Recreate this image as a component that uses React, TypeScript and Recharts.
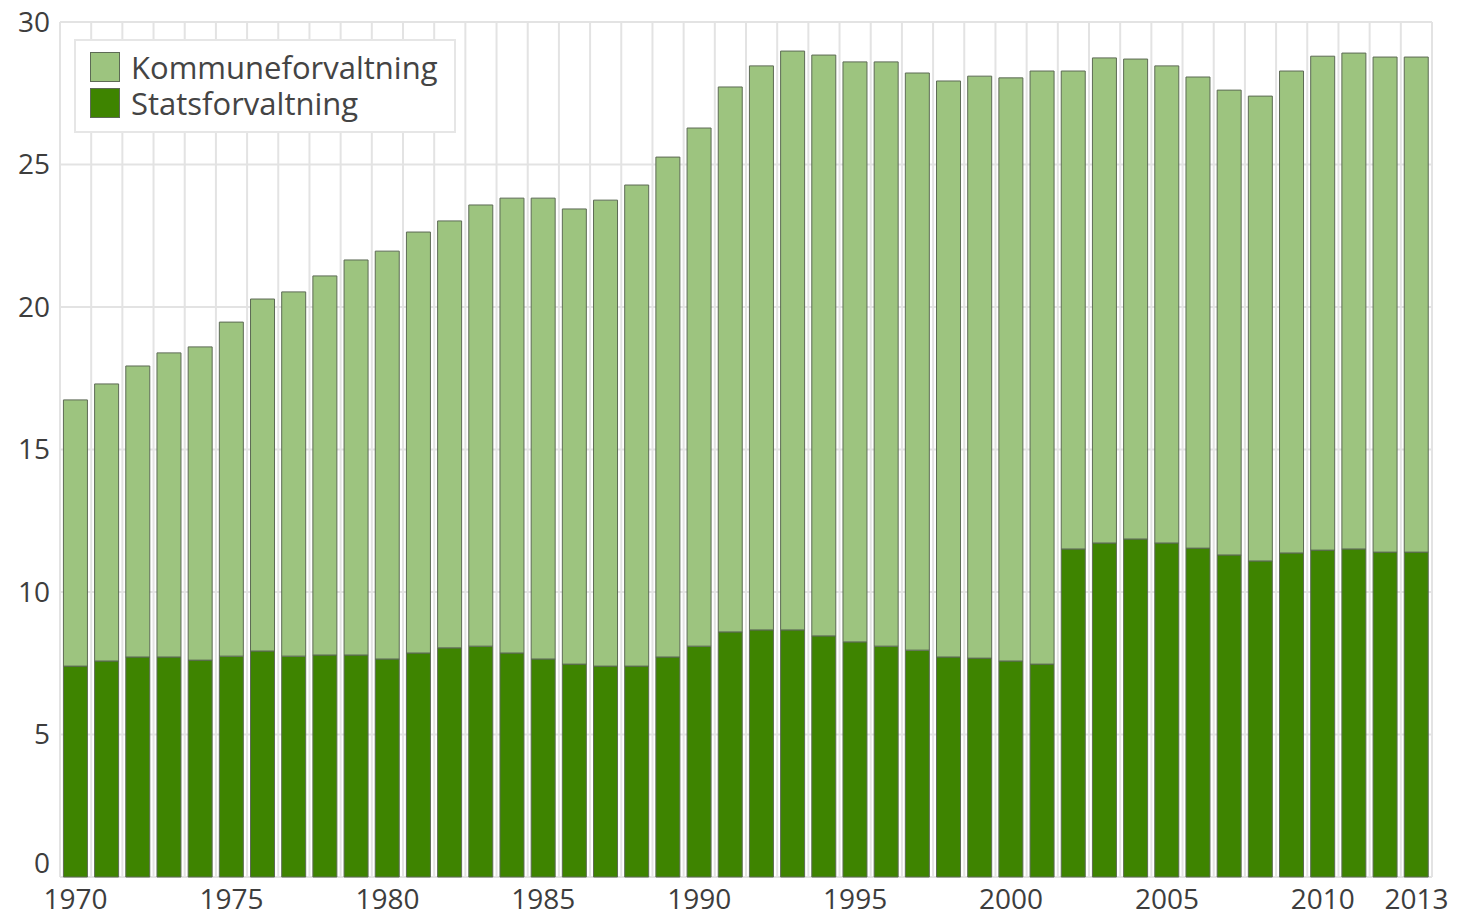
import React from 'react';
import { BarChart, Bar, XAxis, YAxis, CartesianGrid, Legend } from 'recharts';

const years: string[] = [
  '1970','1971','1972','1973','1974','1975','1976','1977','1978','1979',
  '1980','1981','1982','1983','1984','1985','1986','1987','1988','1989',
  '1990','1991','1992','1993','1994','1995','1996','1997','1998','1999',
  '2000','2001','2002','2003','2004','2005','2006','2007','2008','2009',
  '2010','2011','2012','2013',
];

const statsforvaltning: number[] = [
  7.4, 7.58, 7.72, 7.72, 7.61, 7.75, 7.93, 7.75, 7.79, 7.79,
  7.65, 7.86, 8.04, 8.1, 7.86, 7.65, 7.47, 7.4, 7.4, 7.72,
  8.1, 8.6, 8.67, 8.67, 8.46, 8.25, 8.1, 7.96, 7.72, 7.68,
  7.58, 7.47, 11.51, 11.72, 11.86, 11.72, 11.54, 11.3, 11.09, 11.37,
  11.47, 11.51, 11.4, 11.4,
];

const kommuneforvaltning: number[] = [
  9.34, 9.72, 10.21, 10.67, 10.99, 11.72, 12.35, 12.78, 13.3, 13.86,
  14.31, 14.77, 14.98, 15.48, 15.96, 16.17, 15.97, 16.35, 16.88, 17.54,
  18.18, 19.12, 19.79, 20.31, 20.38, 20.35, 20.5, 20.25, 20.21, 20.42,
  20.46, 20.81, 16.77, 17.02, 16.84, 16.74, 16.53, 16.31, 16.31, 16.91,
  17.33, 17.4, 17.37, 17.37,
];

const yTicks: number[] = [0, 5, 10, 15, 20, 25, 30];
const xLabels: string[] = ['1970', '1975', '1980', '1985', '1990', '1995', '2000', '2005', '2010', '2013'];

const COLOR_KOMMUNE = '#9dc47f';
const COLOR_STATS = '#3e8400';
const BAR_STROKE = '#5d6a55';
const GRID = '#e3e3e3';
const FONT = '"Open Sans", "Noto Sans", sans-serif';
const TEXT = '#3d3d3d';

const data = years.map((y, i) => ({
  year: y,
  stats: statsforvaltning[i],
  kommune: kommuneforvaltning[i],
}));

const LegendBox = () => (
  <div
    style={{
      border: '2px solid #e6e6e6',
      background: '#ffffff',
      padding: '8px 14px 10px 14px',
      fontFamily: FONT,
      fontSize: 31,
      color: '#444',
      width: 350,
      boxSizing: 'content-box',
    }}
  >
    {[
      { label: 'Kommuneforvaltning', color: COLOR_KOMMUNE },
      { label: 'Statsforvaltning', color: COLOR_STATS },
    ].map((it) => (
      <div key={it.label} style={{ display: 'flex', alignItems: 'center', height: 36 }}>
        <span
          style={{
            display: 'inline-block',
            width: 28,
            height: 28,
            background: it.color,
            border: `1px solid ${BAR_STROKE}`,
            marginRight: 11,
          }}
        />
        <span style={{ lineHeight: '36px' }}>{it.label}</span>
      </div>
    ))}
  </div>
);

const YTick = (props: any) => {
  const { x, y, payload } = props;
  const shift = payload.value === 0 ? -14 : 0;
  return (
    <text
      x={x}
      y={y + shift}
      dy="0.355em"
      textAnchor="end"
      fontSize={28}
      fill={TEXT}
      fontFamily={FONT}
    >
      {payload.value}
    </text>
  );
};

export default function App() {
  return (
    <div style={{ width: 1450, height: 911, background: '#fff' }}>
      <BarChart
        width={1450}
        height={911}
        data={data}
        margin={{ top: 14, right: 26, bottom: 4, left: 0 }}
        barCategoryGap="11%"
      >
        <CartesianGrid
          stroke={GRID}
          strokeWidth={2}
          verticalCoordinatesGenerator={({ offset }: any) =>
            years.map((_, i) => offset.left + (i * offset.width) / years.length).concat([offset.left + offset.width])
          }
        />
        <XAxis
          dataKey="year"
          interval={0}
          tickLine={false}
          axisLine={false}
          tickSize={0}
          tickMargin={12}
          height={38}
          tick={{ fontSize: 28, fill: TEXT, fontFamily: FONT }}
          tickFormatter={(v: string) => (xLabels.includes(v) ? v : '')}
        />
        <YAxis
          domain={[0, 30]}
          ticks={yTicks}
          interval={0}
          tickLine={false}
          axisLine={false}
          tickSize={0}
          tickMargin={10}
          width={52}
          tick={<YTick />}
        />
        <Legend
          layout="vertical"
          align="center"
          verticalAlign="middle"
          wrapperStyle={{ left: 66, top: 31, width: 'auto', height: 'auto' }}
          content={() => <LegendBox />}
        />
        <Bar
          dataKey="stats"
          name="Statsforvaltning"
          stackId="a"
          fill={COLOR_STATS}
          stroke={BAR_STROKE}
          strokeWidth={1}
          isAnimationActive={false}
        />
        <Bar
          dataKey="kommune"
          name="Kommuneforvaltning"
          stackId="a"
          fill={COLOR_KOMMUNE}
          stroke={BAR_STROKE}
          strokeWidth={1}
          isAnimationActive={false}
        />
      </BarChart>
    </div>
  );
}
